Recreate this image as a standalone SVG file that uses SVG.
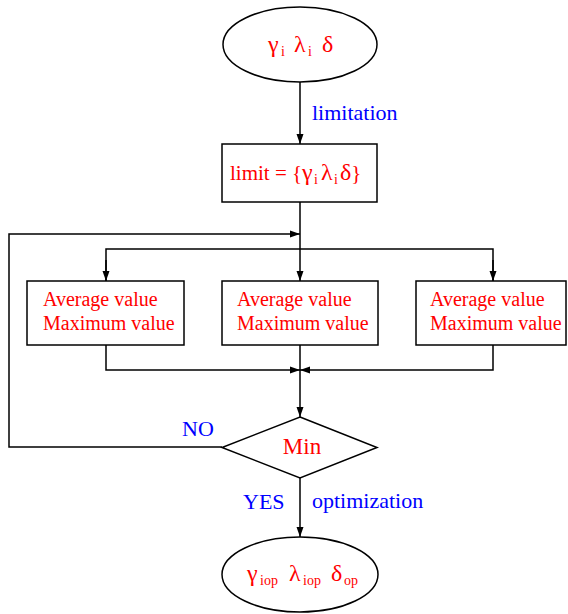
<svg xmlns="http://www.w3.org/2000/svg" width="568" height="614" viewBox="0 0 568 614">
<style>
.s{fill:#fff;stroke:#000;stroke-width:1.5}
.c{fill:none;stroke:#000;stroke-width:1.5}
.r{fill:#ff0000;font-family:"Liberation Serif",serif;font-size:20px}
.g{fill:#ff0000;font-family:"Liberation Serif",serif;font-size:24px}
.b{fill:#0000ff;font-family:"Liberation Serif",serif;font-size:22px}
.sub{font-size:14px}
.l{font-size:21px}
</style>
<defs>
<marker id="a" viewBox="0 0 10 10" refX="10" refY="5" markerWidth="10" markerHeight="10" markerUnits="userSpaceOnUse" orient="auto">
<path d="M0,1.5 L10,5 L0,8.5 Z" fill="#000"/>
</marker>
</defs>
<rect width="568" height="614" fill="#fff"/>
<g id="connectors">
<line class="c" x1="300" y1="82" x2="300" y2="144" marker-end="url(#a)"/>
<line class="c" x1="300" y1="202" x2="300" y2="281" marker-end="url(#a)"/>
<polyline class="c" points="222,447 9,447 9,234 300,234" marker-end="url(#a)"/>
<polyline class="c" points="106,281 106,249 493,249 493,281"/>
<line class="c" x1="106" y1="260" x2="106" y2="281" marker-end="url(#a)"/>
<line class="c" x1="493" y1="260" x2="493" y2="281" marker-end="url(#a)"/>
<polyline class="c" points="106,345 106,370 300,370" marker-end="url(#a)"/>
<polyline class="c" points="493,345 493,370 300,370" marker-end="url(#a)"/>
<line class="c" x1="300" y1="345" x2="300" y2="417" marker-end="url(#a)"/>
<line class="c" x1="300" y1="478" x2="300" y2="537" marker-end="url(#a)"/>
<text class="b" x="312" y="120">limitation</text>
<text class="b" x="182" y="436">NO</text>
<text class="b" x="243" y="509">YES</text>
<text class="b" x="312" y="508">optimization</text>
</g>
<g id="start">
<ellipse class="s" cx="300" cy="44.5" rx="77" ry="37.5"/>
<text class="g" y="52"><tspan x="268">γ</tspan><tspan class="sub" x="281" dy="4">i</tspan><tspan x="294" dy="-4">λ</tspan><tspan class="sub" x="308" dy="4">i</tspan><tspan x="322" dy="-4">δ</tspan></text>
</g>
<g id="limit">
<rect class="s" x="222" y="144" width="155" height="58"/>
<text class="g" y="180"><tspan class="l" x="230">limit = {</tspan><tspan x="302">γ</tspan><tspan class="sub" x="314" dy="4">i</tspan><tspan x="321" dy="-4">λ</tspan><tspan class="sub" x="334" dy="4">i</tspan><tspan x="340" dy="-4">δ</tspan><tspan class="l">}</tspan></text>
</g>
<g id="box1">
<rect class="s" x="27" y="281" width="157" height="64"/>
<text class="r" x="43" y="306">Average value</text>
<text class="r" x="43" y="330">Maximum value</text>
</g>
<g id="box2">
<rect class="s" x="222" y="281" width="156" height="64"/>
<text class="r" x="237" y="306">Average value</text>
<text class="r" x="237" y="330">Maximum value</text>
</g>
<g id="box3">
<rect class="s" x="416" y="281" width="150" height="64"/>
<text class="r" x="430" y="306">Average value</text>
<text class="r" x="430" y="330">Maximum value</text>
</g>
<g id="min">
<polygon class="s" points="300,417 377,447.5 300,478 222,447.5"/>
<text class="r" x="302" y="454" text-anchor="middle" style="font-size:23px">Min</text>
</g>
<g id="end">
<ellipse class="s" cx="300" cy="574.5" rx="78" ry="37.5"/>
<text class="g" y="581"><tspan x="247">γ</tspan><tspan class="sub" x="260" dy="4">iop</tspan><tspan x="289" dy="-4">λ</tspan><tspan class="sub" x="303" dy="4">iop</tspan><tspan x="331" dy="-4">δ</tspan><tspan class="sub" x="344" dy="4">op</tspan></text>
</g>
</svg>
